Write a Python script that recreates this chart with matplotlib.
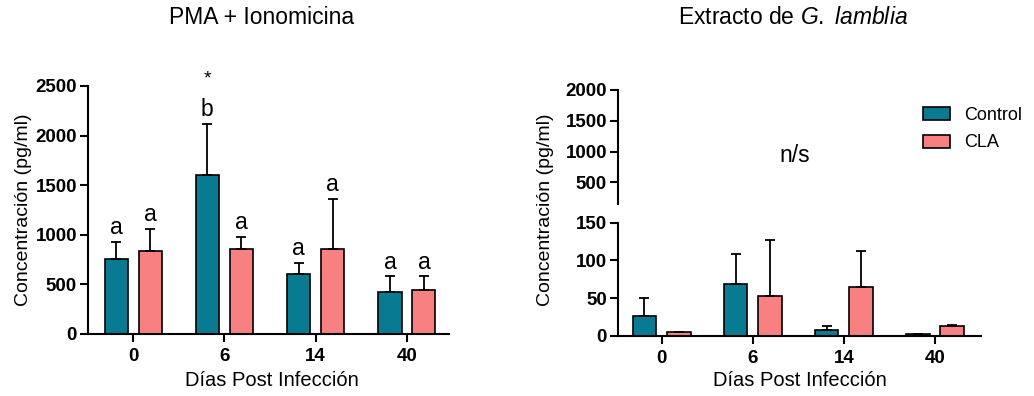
import matplotlib
matplotlib.use("Agg")
import matplotlib.pyplot as plt
import numpy as np

plt.rcParams['font.family'] = ['Liberation Sans', 'DejaVu Sans']
plt.rcParams['mathtext.fontset'] = 'custom'
plt.rcParams['mathtext.rm'] = 'Liberation Sans'
plt.rcParams['mathtext.it'] = 'Liberation Sans:italic'

# ---- data ----
days = ['0', '6', '14', '40']
pma_control = [760, 1600, 600, 420]
pma_control_sd = [170, 520, 120, 160]
pma_cla = [840, 860, 860, 440]
pma_cla_sd = [220, 120, 500, 140]
pma_control_letters = ['a', 'b', 'a', 'a']
pma_cla_letters = ['a', 'a', 'a', 'a']

gl_control = [26, 69, 8, 2]
gl_control_sd = [24, 39, 5, 0]
gl_cla = [5, 53, 65, 13]
gl_cla_sd = [0, 74, 48, 2]

left_yticks = [0, 500, 1000, 1500, 2000, 2500]
right_low_yticks = [0, 50, 100, 150]
right_up_yticks = [500, 1000, 1500, 2000]

c_control = '#087B93'
c_cla = '#F88080'

W, H = 1034, 396
fig = plt.figure(figsize=(W / 100, H / 100), dpi=100)

def px_axes(x0, x1, ytop, ybot):
    return fig.add_axes([x0 / W, (H - ybot) / H, (x1 - x0) / W, (ybot - ytop) / H])

LW = 1.5
tick_kw = dict(width=LW, length=6, labelsize=13.5)

def style(ax):
    for s in ['top', 'right']:
        ax.spines[s].set_visible(False)
    for s in ['left', 'bottom']:
        ax.spines[s].set_linewidth(LW)
    ax.tick_params(axis='both', direction='out', **tick_kw)
    ax.tick_params(axis='y', pad=2)
    ax.tick_params(axis='x', pad=4)
    for lab in ax.get_xticklabels() + ax.get_yticklabels():
        lab.set_fontweight('bold')

x = np.arange(len(days))
err_kw = dict(elinewidth=1.3, capsize=3.5, capthick=1.3, ecolor='black')

# ---- left panel ----
axL = px_axes(88, 449, 86, 334)
off, bw = 0.186, 0.252
axL.bar(x - off, pma_control, bw, color=c_control, edgecolor='black', linewidth=1.2,
        yerr=[np.zeros(4), pma_control_sd], error_kw=err_kw, zorder=2)
axL.bar(x + off, pma_cla, bw, color=c_cla, edgecolor='black', linewidth=1.2,
        yerr=[np.zeros(4), pma_cla_sd], error_kw=err_kw, zorder=2)
axL.set_xlim(-0.493, 3.46)
axL.set_ylim(0, 2500)
axL.set_yticks(left_yticks)
axL.set_xticks(x)
axL.set_xticklabels(days)
style(axL)
for i in range(4):
    axL.annotate(pma_control_letters[i], (x[i] - off, pma_control[i] + pma_control_sd[i]),
                 xytext=(0, 2), textcoords='offset points', ha='center', va='bottom', fontsize=16.5)
    axL.annotate(pma_cla_letters[i], (x[i] + off, pma_cla[i] + pma_cla_sd[i]),
                 xytext=(0, 2), textcoords='offset points', ha='center', va='bottom', fontsize=16.5)
axL.annotate('*', (x[1] - off, pma_control[1] + pma_control_sd[1]),
             xytext=(0, 26), textcoords='offset points', ha='center', va='bottom', fontsize=14,
             annotation_clip=False)

# ---- right panel ----
axR = px_axes(618, 981, 222.7, 336)
offR, bwR = 0.19, 0.26
axR.bar(x - offR, gl_control, bwR, color=c_control, edgecolor='black', linewidth=1.2,
        yerr=[np.zeros(4), gl_control_sd], error_kw=err_kw, zorder=2, label='Control')
axR.bar(x + offR, gl_cla, bwR, color=c_cla, edgecolor='black', linewidth=1.2,
        yerr=[np.zeros(4), gl_cla_sd], error_kw=err_kw, zorder=2, label='CLA')
axR.set_xlim(-0.48, 3.505)
axR.set_ylim(0, 150)
axR.set_yticks(right_low_yticks)
axR.set_xticks(x)
axR.set_xticklabels(days)
style(axR)

axRU = px_axes(618, 981, 90, 203.8)
axRU.set_xlim(-0.48, 3.505)
axRU.set_ylim(150, 2000)
axRU.set_yticks(right_up_yticks)
axRU.set_xticks([])
style(axRU)
axRU.spines['bottom'].set_visible(False)
axRU.patch.set_alpha(0)

# legend
handles, labels = axR.get_legend_handles_labels()
fig.legend(handles, labels, loc='center left', bbox_to_anchor=(923 / W, (H - 129) / H),
           frameon=False, fontsize=13, handlelength=1.5, handleheight=0.75,
           labelspacing=0.6, handletextpad=0.8, borderpad=0, borderaxespad=0)

# texts
fig.text(262 / W, (H - 18) / H, 'PMA + Ionomicina', ha='center', va='center', fontsize=16.5)
fig.text(793 / W, (H - 18) / H, r'Extracto de $\mathit{G.\ lamblia}$', ha='center', va='center', fontsize=16.5)
fig.text(795 / W, (H - 156) / H, 'n/s', ha='center', va='center', fontsize=16.5)
fig.text(272 / W, (H - 381) / H, 'Días Post Infección', ha='center', va='center', fontsize=14.5)
fig.text(800 / W, (H - 381) / H, 'Días Post Infección', ha='center', va='center', fontsize=14.5)
fig.text(24 / W, (H - 210) / H, 'Concentración (pg/ml)', ha='center', va='center', fontsize=14, rotation=90)
fig.text(545 / W, (H - 210) / H, 'Concentración (pg/ml)', ha='center', va='center', fontsize=14, rotation=90)

fig.savefig('out.png', dpi=100)
